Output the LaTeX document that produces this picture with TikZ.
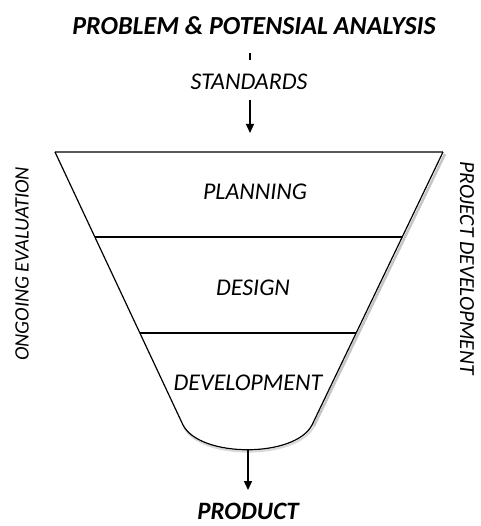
\documentclass[tikz,border=0pt]{standalone}
\usepackage{fontspec}
\setmainfont{Carlito}
\usetikzlibrary{arrows.meta,calc}
\tikzset{
  lbl/.style={font=\fontsize{24}{26}\selectfont\itshape, inner sep=0pt},
  ttl/.style={font=\fontsize{26}{28}\selectfont\bfseries\itshape, inner sep=0pt},
  prodl/.style={font=\fontsize{25}{27}\selectfont\bfseries\itshape, inner sep=0pt},
  side/.style={font=\fontsize{20.5}{22}\selectfont\itshape, inner sep=0pt},
  sideb/.style={font=\fontsize{21.5}{23}\selectfont\itshape, inner sep=0pt},
  divider/.style={line width=2pt, black},
  flow/.style={line width=1.4pt, -{Triangle[length=9pt,width=8pt]}},
}
\begin{document}
\begin{tikzpicture}[x=1pt,y=-1pt]
\useasboundingbox (0,0) rectangle (480,526);
% text nodes
\node[ttl] (title) at (254,26) {PROBLEM \& POTENSIAL ANALYSIS};
\node[lbl] (std) at (249,82) {STANDARDS};
\coordinate (tickA) at (250,53);
\coordinate (tickB) at (250,60);
% funnel corners
\coordinate (tl) at (55,152);
\coordinate (tr) at (443,152);
\coordinate (bl) at (183,425);
\coordinate (br) at (312,425);
\coordinate (bot) at (248,450);
\coordinate (ftop) at (250,133);
\coordinate (stdlow) at (250,100);
\coordinate (prodtop) at (248,490);
% shadow
\draw[gray!45, line width=2.5pt] ($(tr)+(2,2)$) -- ($(br)+(2,1)$);
\draw[gray!30, line width=2pt] ($(br)+(2,1)$) .. controls (297,460) and (200,460) .. ($(bl)+(1,2)$);
% funnel
\fill[white] (tl) -- (tr) -- (br) .. controls (295,458) and (200,458) .. (bl) -- cycle;
\draw[gray!70!black, line width=1.2pt] (tl) -- (tr);
\draw[black, line width=1.2pt] (tr) -- (br) .. controls (295,458) and (200,458) .. (bl) -- (tl);
% dividers
\draw[divider] ($(tl)!0.311!(bl)$) -- ($(tr)!0.311!(br)$);
\draw[divider] ($(tl)!0.663!(bl)$) -- ($(tr)!0.663!(br)$);
% stage labels
\node[lbl] (plan) at (255,192) {PLANNING};
\node[lbl] (design) at (253,288) {DESIGN};
\node[lbl] (dev) at (248,383) {DEVELOPMENT};
\node[prodl] (prod) at (248,511) {PRODUCT};
% side labels
\node[side, rotate=90] (eval) at (22,264) {ONGOING EVALUATION};
\node[sideb, rotate=-90] (pdev) at (467,268) {PROJECT DEVELOPMENT};
% connectors
\draw[line width=1.2pt] (tickA) -- (tickB);
\draw[flow] (stdlow) -- (ftop);
\draw[flow] (bot) -- (prodtop);
\end{tikzpicture}
\end{document}
